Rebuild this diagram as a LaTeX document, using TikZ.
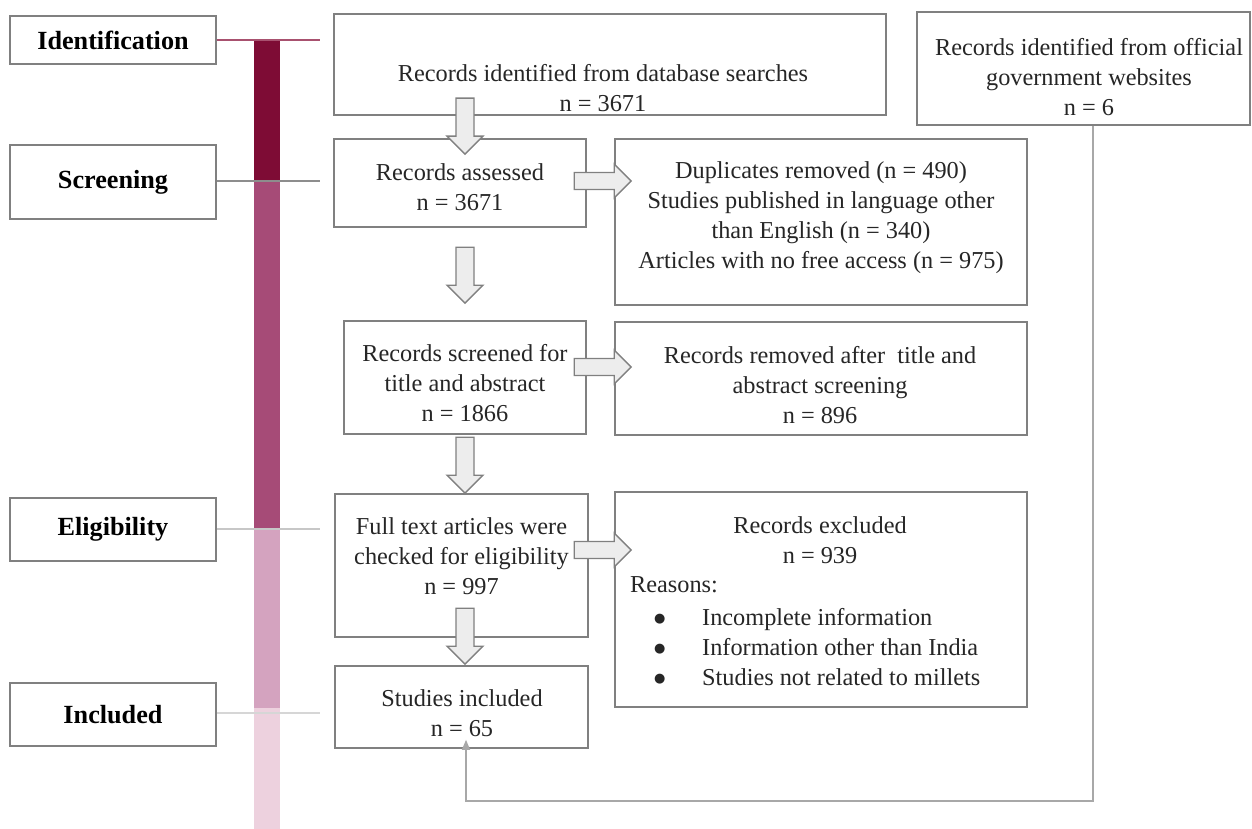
\documentclass[tikz,border=0pt]{standalone}
\usepackage{fontspec}
\setmainfont{Liberation Serif}
\newfontfamily\dvsans{DejaVu Sans}
\usetikzlibrary{calc,arrows.meta}
\definecolor{bardark}{HTML}{7E0C35}
\definecolor{barmid}{HTML}{A64B77}
\definecolor{barlight}{HTML}{D4A3BF}
\definecolor{barpale}{HTML}{EDD1DE}
\definecolor{identline}{HTML}{A8516F}
\definecolor{boxgray}{HTML}{808080}
\definecolor{arrowfill}{HTML}{EDEDED}
\definecolor{conngray}{HTML}{A8A8A8}
\definecolor{txt}{HTML}{262626}
\newcommand{\bigbul}{\makebox[48pt][l]{\raisebox{3pt}{\dvsans\fontsize{13}{13}\selectfont ●}}}
\begin{document}
\begin{tikzpicture}[x=1pt,y=-1pt,
  box/.style={draw=boxgray,line width=1.6pt,fill=white,inner sep=0pt},
  stagebox/.style={box,minimum width=206pt,font=\fontsize{26.2}{30}\selectfont\bfseries,text=black},
  txtnode/.style={align=center,inner sep=0pt,text=txt,font=\fontsize{24.3}{30}\selectfont},
  blockarrow/.style={draw=boxgray,fill=arrowfill,line width=1.4pt,line join=miter},
  varrow/.pic={\draw[blockarrow] (-9,-56) -- (9,-56) -- (9,-18) -- (18,-18) -- (0,0) -- (-18,-18) -- (-9,-18) -- cycle;},
  harrow/.pic={\draw[blockarrow] (-57,-8.5) -- (-17,-8.5) -- (-17,-17) -- (0,0) -- (-17,17) -- (-17,8.5) -- (-57,8.5) -- cycle;},
  conn/.style={draw=conngray,line width=1.5pt}
]
\useasboundingbox[fill=white] (0,0) rectangle (1252,829);

% stage bar
\fill[bardark] (254,40) rectangle (280,181);
\fill[barmid] (254,181) rectangle (280,529);
\fill[barlight] (254,529) rectangle (280,708);
\fill[barpale] (254,708) rectangle (280,829);

% stage labels
\node[stagebox,minimum height=48pt] (idl) at (113,40) {Identification};
\node[stagebox,minimum height=74pt] (scl) at (113,182) {Screening};
\node[stagebox,minimum height=63pt] (ell) at (113,529.5) {Eligibility};
\node[stagebox,minimum height=63pt] (inl) at (113,714.5) {Included};

\coordinate (ie) at (320,40);
\coordinate (se) at (320,181);
\coordinate (ee) at (320,529);
\coordinate (ne) at (320,713);
\draw[identline,line width=1.5pt] (idl.east) -- (ie);
\draw[boxgray!90,line width=1.5pt] (scl.east|-se) -- (se);
\draw[black!22,line width=1.2pt] (ell.east|-ee) -- (ee);
\draw[black!16,line width=1.2pt] (inl.east|-ne) -- (ne);

% main boxes
\node[box,minimum width=552pt,minimum height=101pt] (db) at (610,64.5) {};
\node[box,minimum width=333pt,minimum height=113pt] (gov) at (1083.5,68.5) {};
\node[box,minimum width=252pt,minimum height=88pt] (assessed) at (460,183) {};
\node[box,minimum width=412pt,minimum height=166pt] (dup) at (821,222) {};
\node[box,minimum width=242pt,minimum height=113pt] (screened) at (465,377.5) {};
\node[box,minimum width=412pt,minimum height=113pt] (removed) at (821,378.5) {};
\node[box,minimum width=253pt,minimum height=143pt] (full) at (461.5,565.5) {};
\node[box,minimum width=412pt,minimum height=215pt] (excl) at (821,599.5) {};
\node[box,minimum width=253pt,minimum height=82pt] (studies) at (461.5,707) {};

% texts
\node[txtnode] (dbt) at (603,88.5) {Records identified from database searches\\n = 3671};
\node[txtnode] (govt) at (1089,77) {Records identified from official\\government websites\\n = 6};
\node[txtnode] (assessedt) at (460,187) {Records assessed\\n = 3671};
\node[txtnode] (dupt) at (821,218) {Duplicates removed (n = 490)\\Studies published in language other\\than English (n = 340)\\Articles with no free access (n = 975)};
\node[txtnode] (screenedt) at (465,383) {Records screened for\\title and abstract\\n = 1866};
\node[txtnode] (removedt) at (820,385.5) {Records removed after\ \ title and\\abstract screening\\n = 896};
\node[txtnode] (fullt) at (461.5,556.5) {Full text articles were\\checked for eligibility\\n = 997};
\node[txtnode] (studiest) at (462,713.5) {Studies included\\n = 65};
\node[txtnode] (exclt) at (820,540.5) {Records excluded\\n = 939};
\node[txtnode,anchor=west] (reasons) at (630,585) {Reasons:};
\node[txtnode,anchor=west,align=left] (items) at (654,647.5) {\bigbul Incomplete information\\\bigbul Information other than India\\\bigbul Studies not related to millets};

% block arrows
\pic at ($(assessed.north)+(5,16)$) {varrow};
\pic at ($(screened.north)+(0,-17)$) {varrow};
\pic at ($(full.north)+(3.5,0)$) {varrow};
\pic at ($(studies.north)+(3.5,-1)$) {varrow};
\pic at ($(dup.west|-assessed.center)+(17,-2)$) {harrow};
\pic at ($(removed.west|-screened.center)+(17,-10.5)$) {harrow};
\pic at ($(excl.west|-full.center)+(17,-15.5)$) {harrow};

% connector from government websites to studies included
\coordinate (turn) at (1093,801);
\draw[conn,-{Triangle[length=10pt,width=8pt]}] ($(gov.south)+(9.5,0)$) -- (turn) -| ($(studies.south)+(4.5,-9)$);
\end{tikzpicture}
\end{document}
